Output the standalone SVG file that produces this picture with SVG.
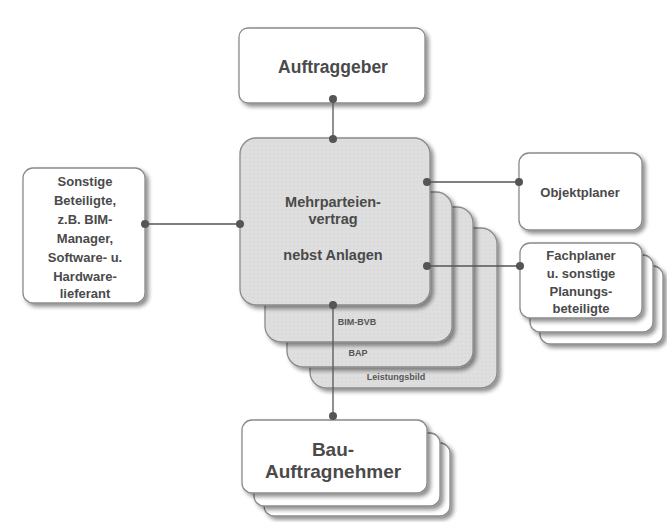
<svg xmlns="http://www.w3.org/2000/svg" width="667" height="522" viewBox="0 0 667 522">
<defs>
<filter id="sh" x="-20%" y="-20%" width="150%" height="150%">
<feGaussianBlur in="SourceAlpha" stdDeviation="2"/>
<feOffset dx="3" dy="3" result="b"/>
<feComponentTransfer><feFuncA type="linear" slope="0.45"/></feComponentTransfer>
<feMerge><feMergeNode/><feMergeNode in="SourceGraphic"/></feMerge>
</filter>
<pattern id="dots" width="4" height="4" patternUnits="userSpaceOnUse">
<rect width="4" height="4" fill="#dedede"/>
<rect x="1" y="1" width="1" height="1" fill="#d2d2d2"/>
</pattern>
</defs>
<style>
.box{fill:#fff;stroke:#8a8a8a;stroke-width:1.3;filter:url(#sh)}
.gbox{fill:url(#dots);stroke:#8a8a8a;stroke-width:1.3;filter:url(#sh)}
.t{font-family:"Liberation Sans",Arial,sans-serif;font-weight:bold;fill:#4a4a4a;text-anchor:middle}
.s{font-size:13px}
.m{font-size:14.5px}
.l{font-size:9px;fill:#555}
.line{stroke:#555;stroke-width:1.3;fill:none}
.dot{fill:#555}
</style>
<rect width="667" height="522" fill="#fff"/>

<g id="auftraggeber">
<rect class="box" x="239" y="28" width="186" height="75" rx="9"/>
<text class="t" x="333" y="73" font-size="17.5">Auftraggeber</text>
</g>

<g id="mehrparteienvertrag">
<rect class="gbox" x="310" y="228" width="187" height="160" rx="16"/>
<rect class="gbox" x="287" y="207" width="186" height="160" rx="16"/>
<rect class="gbox" x="265" y="192" width="187" height="150" rx="16"/>
<rect class="gbox" x="240" y="138" width="190" height="167" rx="16"/>
<text class="t m" x="333" y="207">Mehrparteien-</text>
<text class="t m" x="333" y="224">vertrag</text>
<text class="t m" x="333" y="260">nebst Anlagen</text>
<text class="t l" x="357" y="325">BIM-BVB</text>
<text class="t l" x="358" y="356">BAP</text>
<text class="t l" x="396" y="380" font-weight="normal">Leistungsbild</text>
</g>

<g id="sonstige">
<rect class="box" x="23" y="168" width="122" height="135" rx="10"/>
<text class="t s" x="85" y="186">Sonstige</text>
<text class="t s" x="85" y="205">Beteiligte,</text>
<text class="t s" x="85" y="224">z.B. BIM-</text>
<text class="t s" x="85" y="243">Manager,</text>
<text class="t s" x="85" y="262">Software- u.</text>
<text class="t s" x="85" y="281">Hardware-</text>
<text class="t s" x="85" y="298">lieferant</text>
</g>

<g id="objektplaner">
<rect class="box" x="519" y="153" width="123" height="77" rx="10"/>
<text class="t s" x="580" y="197">Objektplaner</text>
</g>

<g id="fachplaner">
<rect class="box" x="540" y="266" width="123" height="78" rx="10"/>
<rect class="box" x="530" y="255" width="123" height="77" rx="10"/>
<rect class="box" x="520" y="243" width="122" height="75" rx="10"/>
<text class="t s" x="581" y="260">Fachplaner</text>
<text class="t s" x="581" y="278">u. sonstige</text>
<text class="t s" x="581" y="296">Planungs-</text>
<text class="t s" x="581" y="313">beteiligte</text>
</g>

<g id="bau-auftragnehmer">
<rect class="box" x="264" y="443" width="186" height="73" rx="10"/>
<rect class="box" x="254" y="433" width="186" height="73" rx="10"/>
<rect class="box" x="242" y="420" width="185" height="73" rx="10"/>
<text class="t" x="333" y="456" font-size="19">Bau-</text>
<text class="t" x="333" y="478" font-size="19">Auftragnehmer</text>
</g>

<g id="connectors">
<line class="line" x1="333" y1="99" x2="333" y2="139"/>
<circle class="dot" cx="333" cy="99" r="4"/>
<circle class="dot" cx="333" cy="139" r="4"/>
<line class="line" x1="145" y1="224" x2="240" y2="224"/>
<circle class="dot" cx="145" cy="224" r="4"/>
<circle class="dot" cx="240" cy="224" r="4"/>
<line class="line" x1="427" y1="182" x2="519" y2="182"/>
<circle class="dot" cx="427" cy="182" r="4"/>
<circle class="dot" cx="519" cy="182" r="4"/>
<line class="line" x1="427" y1="266" x2="520" y2="266"/>
<circle class="dot" cx="427" cy="266" r="4"/>
<circle class="dot" cx="520" cy="266" r="4"/>
<line class="line" x1="333" y1="305" x2="333" y2="416"/>
<circle class="dot" cx="333" cy="305" r="4"/>
<circle class="dot" cx="333" cy="416" r="4"/>
</g>
</svg>
